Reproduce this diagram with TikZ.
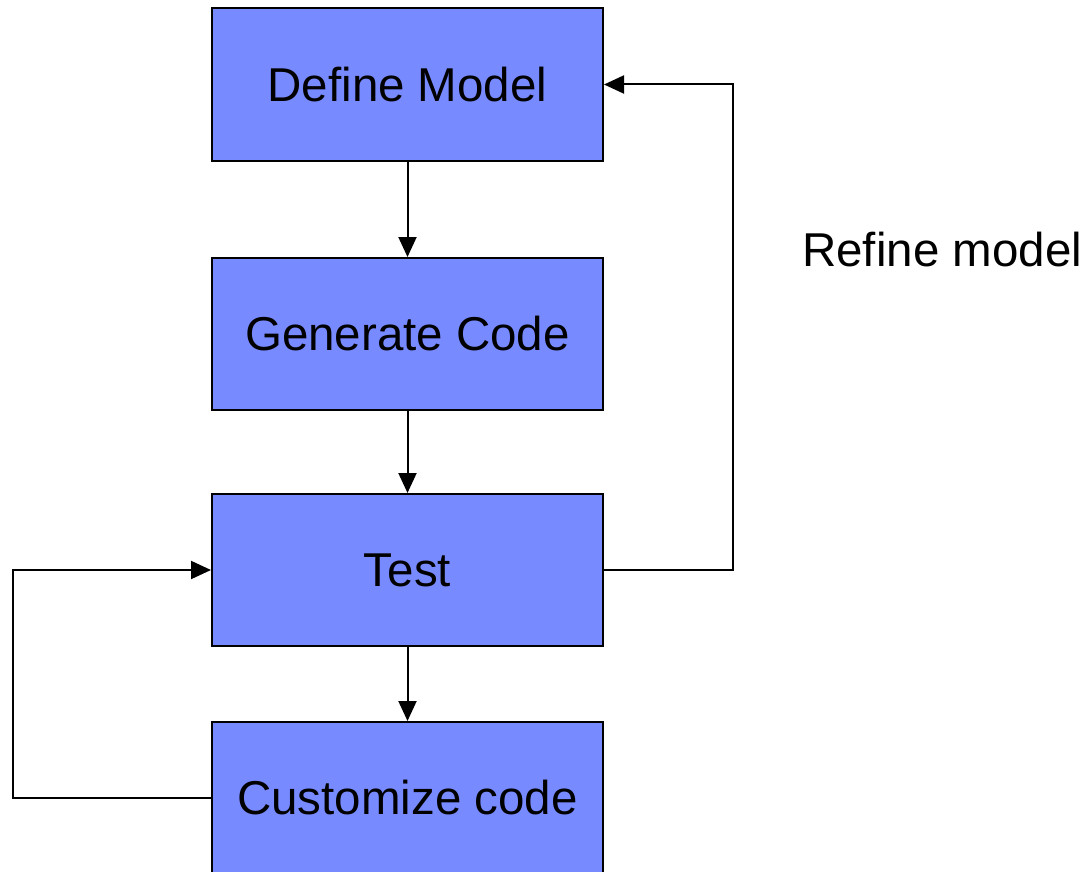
\documentclass[tikz,border=0pt]{standalone}
\usepackage{fontspec}
\setmainfont{Liberation Sans}
\usetikzlibrary{arrows.meta}
\definecolor{boxblue}{RGB}{120,138,255}
\begin{document}
\begin{tikzpicture}[x=1pt,y=-1pt,
  stepbox/.style={draw=black,line width=2pt,fill=boxblue,minimum width=391pt,minimum height=152pt,inner sep=0pt,font=\fontsize{47.5}{55}\selectfont},
  conn/.style={line width=2pt,-{Triangle[length=20pt,width=18pt]}}]
\useasboundingbox (0,0) rectangle (1087,872);
\node[stepbox,minimum height=153pt] (define) at (407.5,84.5) {Define Model};
\node[stepbox] (generate) at (407.5,334) {Generate Code};
\node[stepbox] (test) at (407.5,570) {Test};
\node[stepbox] (custom) at (407.5,798) {Customize code};
\node[font=\fontsize{47.5}{55}\selectfont,anchor=west,inner sep=0pt] (refine) at (802,250) {Refine model};
\draw[conn] (define) -- (generate);
\draw[conn] (generate) -- (test);
\draw[conn] (test) -- (custom);
\coordinate (rc) at (733,0);
\coordinate (lc) at (13,0);
\draw[conn] (test.east) -- (rc |- test.east) -- (rc |- define.east) -- (define.east);
\draw[conn] (custom.west) -- (lc |- custom.west) -- (lc |- test.west) -- (test.west);
\end{tikzpicture}
\end{document}
